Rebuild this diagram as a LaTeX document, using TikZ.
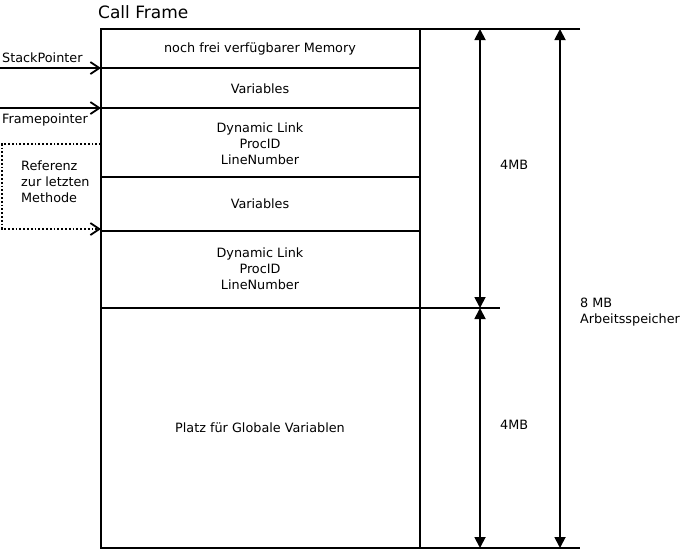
\documentclass[tikz,border=0pt]{standalone}
\usepackage{fontspec}
\setmainfont{DejaVu Sans}
\usetikzlibrary{arrows.meta}
\begin{document}
\begin{tikzpicture}[x=1pt,y=-1pt,
  ln/.style={line width=1.8pt},
  dim/.style={line width=1.8pt,{Triangle[length=11pt,width=11pt]}-{Triangle[length=11pt,width=11pt]}},
  ptr/.style={line width=1.8pt,-{Straight Barb[length=9pt,width=12pt,line width=1.8pt]}},
  txt/.style={font=\fontsize{12.8}{16}\selectfont,align=center,inner sep=0pt},
  ltxt/.style={font=\fontsize{12.8}{16}\selectfont,align=left,inner sep=0pt,anchor=west}]
\useasboundingbox (0,0) rectangle (680,550);
% box
\coordinate (tl) at (101,29); \coordinate (tr) at (420,29);
\coordinate (bl) at (101,548); \coordinate (br) at (420,548);
\coordinate (te) at (580,29); \coordinate (be) at (580,548);
\draw[ln] (te) -- (tl) -- (bl) -- (be);
\draw[ln] (tr) -- (br);
\coordinate (l1) at (101,68); \coordinate (r1) at (420,68);
\coordinate (l2) at (101,108); \coordinate (r2) at (420,108);
\coordinate (l3) at (101,177); \coordinate (r3) at (420,177);
\coordinate (l4) at (101,231); \coordinate (r4) at (420,231);
\coordinate (l5) at (101,308); \coordinate (r5) at (500,308);
\draw[ln] (l1) -- (r1);
\draw[ln] (l2) -- (r2);
\draw[ln] (l3) -- (r3);
\draw[ln] (l4) -- (r4);
\draw[ln] (l5) -- (r5);
% title
\node[anchor=west,inner sep=0pt,font=\fontsize{17}{20}\selectfont] (title) at (98,12) {Call Frame};
% texts
\node[txt] (t1) at (260,49) {noch frei verfügbarer Memory};
\node[txt] (t2) at (260,89) {Variables};
\node[txt] (t3) at (260,144) {Dynamic Link\\ProcID\\LineNumber};
\node[txt] (t4) at (260,204) {Variables};
\node[txt] (t5) at (260,269) {Dynamic Link\\ProcID\\LineNumber};
\node[txt] (t6) at (260,428) {Platz für Globale Variablen};
% dimension arrows
\coordinate (a1t) at (480,29); \coordinate (a1b) at (480,308);
\coordinate (a2t) at (480,308); \coordinate (a2b) at (480,548);
\coordinate (a3t) at (560,29); \coordinate (a3b) at (560,548);
\draw[dim] (a1t) -- (a1b);
\draw[dim] (a2t) -- (a2b);
\draw[dim] (a3t) -- (a3b);
\node[ltxt] (m1) at (500,165) {4MB};
\node[ltxt] (m2) at (500,425) {4MB};
\node[ltxt] (m3) at (580,312) {8 MB\\Arbeitsspeicher};
% pointers
\coordinate (sp) at (0,68); \coordinate (fp) at (0,108);
\draw[ptr] (sp) -- (l1);
\draw[ptr] (fp) -- (l2);
\node[ltxt] (spl) at (2,58) {StackPointer};
\node[ltxt] (fpl) at (2,120) {Framepointer};
% reference
\coordinate (d1) at (101,144); \coordinate (d2) at (2,144);
\coordinate (d3) at (2,229); \coordinate (d4) at (101,229);
\draw[line width=1.8pt,dotted,-{Straight Barb[length=9pt,width=12pt,line width=1.8pt]}] (d1) -- (d2) -- (d3) -- (d4);
\node[ltxt] (ref) at (21,182) {Referenz\\zur letzten\\Methode};
\end{tikzpicture}
\end{document}
